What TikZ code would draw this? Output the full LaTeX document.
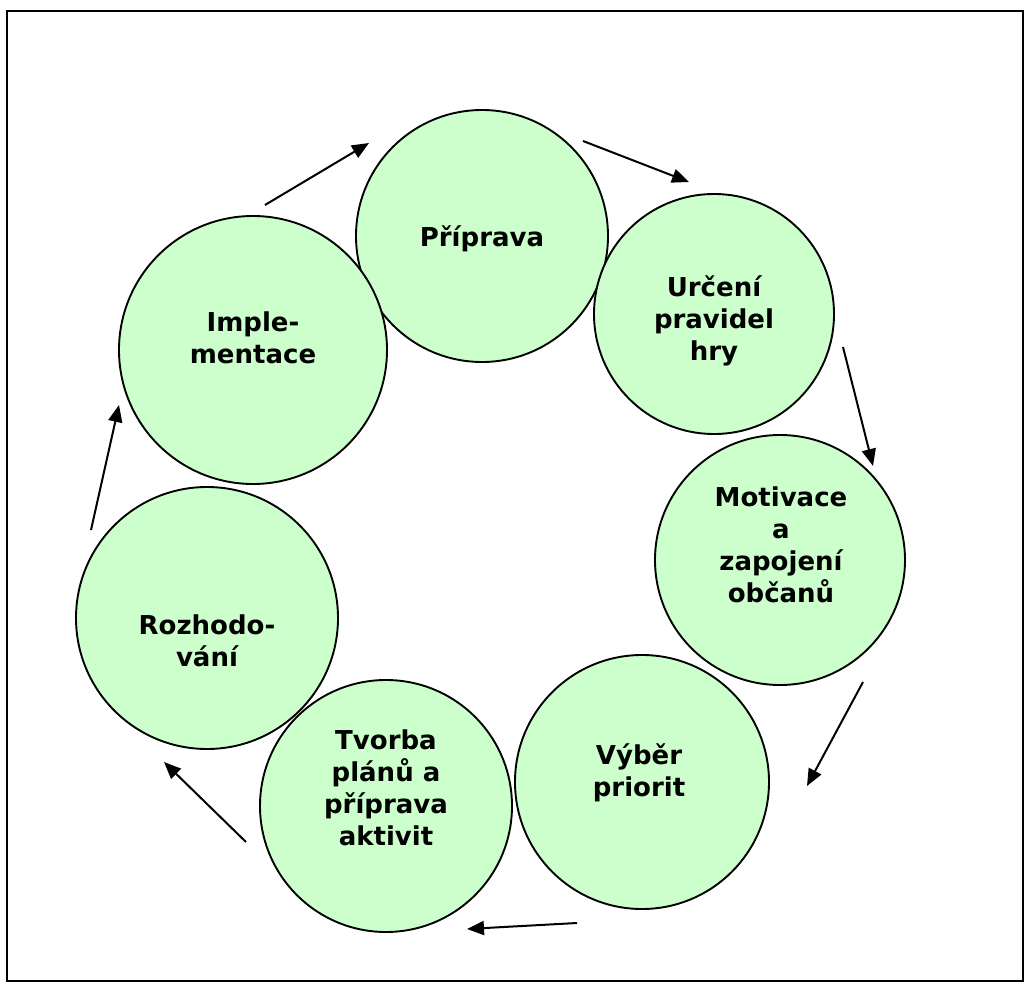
\documentclass[tikz,border=0pt]{standalone}
\usepackage{fontspec}
\setmainfont{DejaVu Sans}
\usetikzlibrary{arrows.meta}
\definecolor{phasegreen}{HTML}{CCFFCC}

\begin{document}
\begin{tikzpicture}[x=1pt, y=-1pt,
    phase/.style={draw, circle, fill=phasegreen, line width=1.9pt, inner sep=0pt},
    phasetext/.style={align=center, inner sep=0pt, font=\bfseries\fontsize{26}{32}\selectfont},
    flow/.style={-{Triangle[length=17pt, width=14pt]}, line width=2pt}]
    \useasboundingbox (0,0) rectangle (1031,990);

    % Frame
    \draw[line width=1.9pt] (7,11) rectangle (1023,981);

    % Phases (drawn in order, later ones on top)
    \node (c1) [phase, minimum size=252pt] at (482,236) {};
    \node (c2) [phase, minimum size=240pt] at (714,314) {};
    \node (c3) [phase, minimum size=250pt] at (780,560) {};
    \node (c4) [phase, minimum size=254pt] at (642,782) {};
    \node (c5) [phase, minimum size=252pt] at (386,806) {};
    \node (c6) [phase, minimum size=262pt] at (207,618) {};
    \node (c7) [phase, minimum size=268pt] at (253,350) {};

    % Labels
    \node (t1) [phasetext] at (482,239) {Příprava};
    \node (t2) [phasetext] at (714,321) {Určení\\pravidel\\hry};
    \node (t3) [phasetext] at (781,545) {Motivace\\a\\zapojení\\občanů};
    \node (t4) [phasetext] at (639,773) {Výběr\\priorit};
    \node (t5) [phasetext] at (386,788) {Tvorba\\plánů a\\příprava\\aktivit};
    \node (t6) [phasetext] at (207,641) {Rozhodo-\\vání};
    \node (t7) [phasetext] at (253,338) {Imple-\\mentace};

    % Arrow ends
    \coordinate (a1s) at (265,205); \coordinate (a1e) at (369,143);
    \coordinate (a2s) at (583,141); \coordinate (a2e) at (689,182);
    \coordinate (a3s) at (843,347); \coordinate (a3e) at (873,466);
    \coordinate (a4s) at (863,682); \coordinate (a4e) at (807,786);
    \coordinate (a5s) at (577,923); \coordinate (a5e) at (467,929);
    \coordinate (a6s) at (246,842); \coordinate (a6e) at (164,762);
    \coordinate (a7s) at (91,530);  \coordinate (a7e) at (119,405);

    % Cycle
    \draw[flow] (a1s) -- (a1e);
    \draw[flow] (a2s) -- (a2e);
    \draw[flow] (a3s) -- (a3e);
    \draw[flow] (a4s) -- (a4e);
    \draw[flow] (a5s) -- (a5e);
    \draw[flow] (a6s) -- (a6e);
    \draw[flow] (a7s) -- (a7e);
\end{tikzpicture}
\end{document}
